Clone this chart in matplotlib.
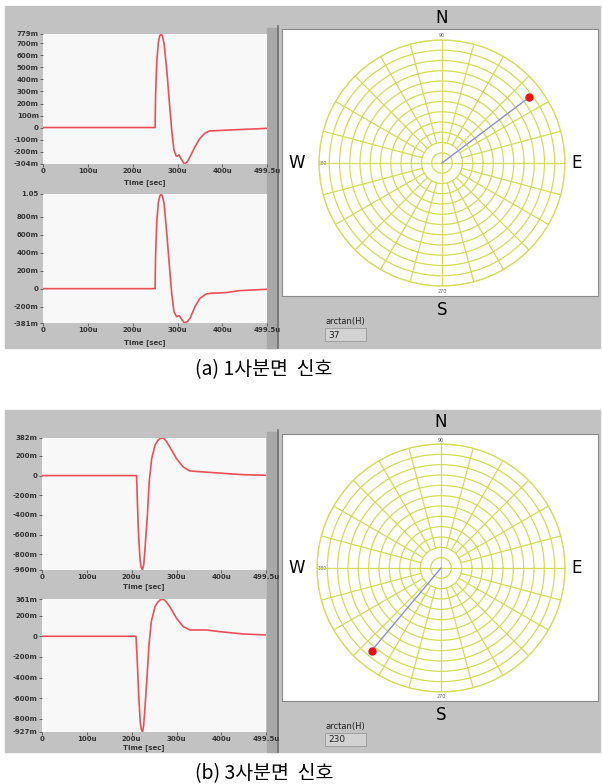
import numpy as np
import matplotlib
matplotlib.use("Agg")
import matplotlib.pyplot as plt
from matplotlib.patches import Rectangle

plt.rcParams['font.family'] = ['DejaVu Sans']

# ---- data (values in milli-units, time in usec) ----
time_ticks = [0, 100, 200, 300, 400, 499.5]
time_labels = ['0', '100u', '200u', '300u', '400u', '499.5u']

a1_t = [0, 100, 200, 250, 251, 253.5, 257, 260, 263, 266, 270, 276, 282, 287, 292, 297, 300, 303, 307, 315,
        322, 328, 339, 350, 361, 371, 420, 470, 499.5]
a1_v = [0, 0, 0, 0, 257, 535, 701, 760, 779, 765, 701, 479, 201, -21, -187, -237, -238, -228, -255, -304,
        -285, -243, -160, -90, -48, -29, -20, -12, -7]
a1_ticks = [779, 700, 600, 500, 400, 300, 200, 100, 0, -100, -200, -304]
a1_labels = ['779m', '700m', '600m', '500m', '400m', '300m', '200m', '100m', '0', '-100m', '-200m', '-304m']

a2_t = [0, 100, 200, 250, 251, 253.5, 257, 260, 263, 266, 270, 276, 282, 287, 292, 298, 301, 304, 308, 315,
        322, 328, 339, 350, 364, 375, 408, 438, 499.5]
a2_v = [0, 0, 0, 0, 355, 725, 947, 1020, 1050, 1030, 947, 614, 244, -51, -255, -310, -305, -300, -330, -381,
        -365, -328, -200, -107, -59, -51, -44, -22, -7]
a2_ticks = [1050, 800, 600, 400, 200, 0, -200, -381]
a2_labels = ['1.05', '800m', '600m', '400m', '200m', '0', '-200m', '-381m']

b1_t = [0, 100, 211, 212.5, 215, 218.5, 221, 224, 227, 229.7, 235, 239, 244.6, 252, 258, 263, 270.5, 277,
        285, 300, 315, 330, 360, 412, 449, 499.5]
b1_v = [0, 0, 0, -235, -573, -845, -930, -960, -900, -743, -404, -65, 172, 308, 355, 375, 382, 350,
        291, 172, 87, 47, 37, 20, 9, 3]
b1_ticks = [382, 200, 0, -200, -400, -600, -800, -960]
b1_labels = ['382m', '200m', '0', '-200m', '-400m', '-600m', '-800m', '-960m']

b2_t = [0, 100, 209.6, 212.5, 215.6, 219, 221.5, 224, 226.5, 229, 234, 238.6, 243.7, 252, 258, 263, 270.5, 277,
        285, 300, 315, 330, 367, 396, 449, 499.5]
b2_v = [0, 0, 0, -246, -568, -827, -900, -927, -870, -730, -407, -84, 141, 287, 330, 351, 361, 335,
        287, 174, 93, 61, 61, 45, 22, 13]
b2_ticks = [361, 200, 0, -200, -400, -600, -800, -927]
b2_labels = ['361m', '200m', '0', '-200m', '-400m', '-600m', '-800m', '-927m']

angle_a, radius_a = 37, 0.89
angle_b, radius_b = 230, 0.87
ring_levels = [i / 12 for i in range(1, 13)]
spoke_angles = list(range(0, 360, 15))

W, H = 602, 784
GRAY = '#c2c2c2'
GRID = '#d4dd55'
LINE = '#e9505a'


def px_rect(x0, y0, x1, y1):
    # pixel box (top-left origin) -> figure fraction rect
    return [x0 / W, 1 - y1 / H, (x1 - x0) / W, (y1 - y0) / H]


fig = plt.figure(figsize=(W / 100, H / 100), dpi=100)
bg = fig.add_axes([0, 0, 1, 1])
bg.set_xlim(0, W)
bg.set_ylim(H, 0)
bg.axis('off')


def wave(box, t, v, ticks, labels, label_y):
    ax = fig.add_axes(px_rect(*box))
    ax.set_facecolor('#f8f8f8')
    ax.plot(t, v, color=LINE, lw=1.2)
    ax.set_xlim(0, 499.5)
    ax.set_ylim(ticks[-1], ticks[0])
    ax.set_yticks(ticks)
    ax.set_yticklabels(labels)
    ax.set_xticks(time_ticks)
    ax.set_xticklabels(time_labels)
    for s in ax.spines.values():
        s.set_visible(False)
    ax.tick_params(length=2, width=0.6, color='#555555', labelsize=5, pad=1)
    for lab in ax.get_xticklabels() + ax.get_yticklabels():
        lab.set_fontweight('bold')
        lab.set_color('#333333')
    bg.text((box[0] + box[2]) / 2 - 10, label_y, 'Time [sec]', fontsize=5, fontweight='bold',
            color='#333333', ha='center', va='center')
    return ax


def compass(top, cx, cy, R, ang, rad, value, caption, cap_y):
    # gray panel + separator
    bg.add_patch(Rectangle((5, top), 595, cap_y - top - 22, color=GRAY, zorder=0))
    bg.add_patch(Rectangle((267, top + 22), 10, cap_y - top - 44, color='#a8a8a8', zorder=1))
    bg.plot([278, 278], [top + 20, cap_y - 22], color='#6e6e6e', lw=1.2, zorder=2)
    # white plot area
    bg.add_patch(Rectangle((282, cy - 134), 316, 267, facecolor='white', edgecolor='#8a8a8a',
                           lw=0.8, zorder=2))
    pax = fig.add_axes(px_rect(cx - R, cy - R, cx + R, cy + R), projection='polar')
    pax.set_facecolor('none')
    pax.set_ylim(0, 1)
    pax.set_rticks(ring_levels)
    pax.set_yticklabels([])
    pax.set_thetagrids([], labels=[])
    pax.yaxis.grid(True, color=GRID, lw=0.9)
    pax.xaxis.grid(False)
    pax.spines['polar'].set_color(GRID)
    pax.spines['polar'].set_linewidth(0.9)
    for a in spoke_angles:
        r0 = 0 if a % 90 == 0 else ring_levels[1]
        pax.plot([np.deg2rad(a)] * 2, [r0, 1], color=GRID, lw=0.9)
    th = np.deg2rad(ang)
    pax.plot([0, th], [0, rad], color='#8c8ce2', lw=1)
    pax.plot([th], [rad], 'o', color='#ee1111', ms=5)
    pax.set_ylim(0, 1)
    # direction letters and degree labels
    bg.text(cx, top + 12, 'N', fontsize=12, ha='center', va='center', zorder=3)
    bg.text(cx, cy + 147, 'S', fontsize=12, ha='center', va='center', zorder=3)
    bg.text(297, cy, 'W', fontsize=12, ha='center', va='center', zorder=3)
    bg.text(577, cy, 'E', fontsize=12, ha='center', va='center', zorder=3)
    bg.text(cx, cy - 128, '90', fontsize=3.5, color='#666666', ha='center', va='center', zorder=3)
    bg.text(cx, cy + 128, '270', fontsize=3.5, color='#666666', ha='center', va='center', zorder=3)
    bg.text(322, cy, '180', fontsize=3.5, color='#666666', ha='center', va='center', zorder=3)
    bg.text(325, cy + 158, 'arctan(H)', fontsize=6, color='#222222', ha='left', va='center', zorder=3)
    bg.add_patch(Rectangle((325, cy + 165), 41, 13, facecolor='#d2d2d2', edgecolor='#999999',
                           lw=0.6, zorder=3))
    bg.text(328, cy + 172, value, fontsize=6.5, color='#222222', ha='left', va='center', zorder=4)
    bg.text(264, cap_y, caption, fontsize=14, ha='center', va='center',
            family=['Noto Sans CJK KR', 'DejaVu Sans'])


compass(6, 442, 163, 123, angle_a, radius_a, '37', '(a) 1사분면  신호', 370)
compass(410, 441, 568, 124, angle_b, radius_b, '230', '(b) 3사분면  신호', 774)

wave((43, 34, 267, 164), a1_t, a1_v, a1_ticks, a1_labels, 183)
wave((43, 194, 267, 323), a2_t, a2_v, a2_ticks, a2_labels, 343)
wave((42, 438, 266, 570), b1_t, b1_v, b1_ticks, b1_labels, 587)
wave((42, 599, 266, 732), b2_t, b2_v, b2_ticks, b2_labels, 748)

fig.savefig('out.png', dpi=100)
